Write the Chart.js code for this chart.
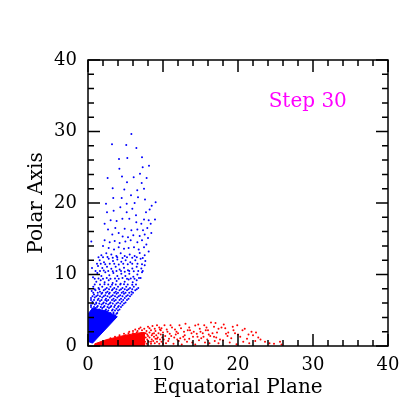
<html>
<head>
  <meta charset="utf-8">
  <title>Step 30</title>
  <script src="https://cdn.jsdelivr.net/npm/chart.js"></script>
  <style>
    body { margin: 0; background: white; }
    #wrap { width: 409px; height: 409px; }
  </style>
</head>
<body>
<div id="wrap"><canvas id="c" width="409" height="409"></canvas></div>
<script>
const axisTicks = [0, 10, 20, 30, 40];
const stepLabel = "Step 30";

// solid cores near the origin (outline of the dense region)
const jetCore = [[0.1,0.6],[0.1,4.6],[0.6,5.3],[2.4,4.9],[3.9,4.1],[0.6,0.4],[0.1,0.6]];
const diskCore = [[0.8,0.05],[0.9,0.3],[2.5,0.9],[4.5,1.4],[6.5,1.8],[7.5,1.9],[7.5,0.05],[0.8,0.05]];

// polar jet particles
const jetDots = [
  [5.78,29.65],[3.2,28.2],[5.1,28.1],[6.45,27.7],[4.13,26.15],[5.24,26.3],[7.2,26.4],[4.18,24.8],[7.29,25.0],[8.13,25.2],
  [2.62,23.5],[4.53,23.7],[6.09,23.6],[6.93,24.1],[7.82,23.5],[5.2,22.9],[7.16,22.8],[3.29,22.05],[4.84,21.9],[6.57,21.8],
  [7.47,22.0],[5.73,21.1],[6.67,20.8],[3.37,20.7],[4.49,20.7],[7.6,20.5],[9.02,20.1],[2.4,19.9],[5.16,19.9],[6.22,20.0],
  [8.49,19.6],[4.31,19.4],[5.91,19.2],[8.22,19.1],
  [3.42,18.9],[5.16,18.7],[2.53,18.7],[7.73,18.7],[6.4,18.3],
  [3.02,17.6],[3.82,17.5],[4.58,17.8],[5.51,17.8],[7.47,17.7],[8.09,17.6],[8.93,17.7],
  [2.22,17.1],[6.44,17.3],[7.11,17.1],[8.36,17.1],
  [2.67,16.3],[3.64,16.5],[4.89,16.4],[5.78,16.2],[6.58,16.3],[7.33,16.2],[7.91,16.5],
  [3.24,15.6],[4.09,15.8],[4.62,15.3],[5.33,15.2],[6.04,15.5],[6.89,15.4],[7.56,15.6],[8.44,15.8],
  [0.44,14.6],[2.22,14.8],[2.89,14.5],[3.56,14.7],[4.22,14.4],[4.98,14.6],[5.69,14.8],[6.58,14.5],[7.2,14.8],[8.0,15.1],
  [2.0,14.0],[2.76,13.7],[3.47,13.5],[4.09,13.8],[4.8,13.6],[5.42,13.7],[6.13,13.8],[6.76,13.5],[7.47,13.8],[7.78,14.2],
  [1.78,12.7],[2.44,12.97],[3.11,12.8],[3.78,12.6],[4.36,12.97],[4.89,12.6],[5.56,12.8],[6.22,12.6],[6.89,13.0],[7.56,12.7],[8.09,13.2],
  [1.4,12.4],[2.0,12.4],[2.6,12.45],[3.3,12.35],[3.9,12.4],[4.6,12.3],[5.2,12.4],[5.9,12.35],[6.5,12.4],[7.3,12.3],
  [1.56,12.0],[2.13,11.7],[2.76,12.2],[3.33,11.9],[3.91,12.1],[4.44,11.8],[5.02,12.0],[5.64,11.7],[6.31,12.0],[7.02,12.2],[7.64,11.9],
  [1.2,11.5],[1.7,11.5],[2.3,11.45],[2.9,11.5],[3.5,11.5],[4.1,11.4],[4.7,11.5],[5.3,11.45],[5.9,11.5],[6.6,11.5],[7.2,11.45],
  [0.53,10.9],[1.33,11.2],[1.91,10.9],[2.53,11.1],[3.11,10.8],[3.69,11.1],[4.22,10.7],[4.8,10.95],[5.33,10.6],[5.91,10.85],[6.49,11.1],[7.11,10.85],[7.56,11.3],
  [1.0,10.5],[1.6,10.5],[2.1,10.55],[2.7,10.5],[3.3,10.45],[3.8,10.5],[4.4,10.5],[4.9,10.4],[5.5,10.5],[6.1,10.45],[6.7,10.5],[7.3,10.5],
  [0.67,9.6],[1.24,10.2],[1.78,9.8],[2.31,10.3],[2.84,9.9],[3.38,10.2],[3.91,9.8],[4.44,10.1],[4.98,9.8],[5.51,10.1],[6.04,9.7],[6.58,10.0],[7.2,10.3],
  [0.9,9.4],[1.4,9.45],[2.0,9.4],[2.5,9.5],[3.0,9.4],[3.6,9.45],[4.1,9.4],[4.6,9.5],[5.2,9.4],[5.7,9.45],[6.2,9.4],[6.8,9.5],
  [1.11,9.0],[1.69,9.2],[2.22,8.9],[2.76,9.2],[3.29,8.8],[3.82,9.1],[4.36,8.7],[4.89,9.0],[5.42,9.3],[5.96,8.9],[6.49,9.2],[7.02,9.5],
  [0.9,8.6],[1.6,8.6],[2.2,8.65],[2.7,8.6],[3.2,8.55],[3.7,8.6],[4.3,8.6],[4.8,8.65],[5.3,8.6],[5.9,8.55],[6.4,8.6],
  [0.7,8.3],[1.4,8.1],[1.9,8.3],[2.5,8.1],[3.0,8.3],[3.5,8.1],[4.0,8.3],[4.6,8.1],[5.1,8.3],[5.6,8.1],[6.1,8.3],[6.7,8.1],
  [0.9,7.95],[1.5,7.95],[2.3,7.95],[2.8,7.95],[3.3,7.95],[3.8,7.95],[4.4,7.95],[4.9,7.95],[5.4,7.95],[5.9,7.95],[6.5,7.95],
  [0.5,7.7],[1.0,7.8],[1.6,7.6],[2.1,7.8],[2.6,7.6],[3.2,7.8],[3.7,7.6],[4.2,7.8],[4.7,7.6],[5.2,7.8],[5.8,7.6],[6.3,7.8],
  [0.7,7.45],[1.3,7.45],[1.9,7.45],[2.4,7.45],[2.9,7.45],[3.5,7.45],[4.0,7.45],[4.5,7.45],[5.0,7.45],[5.5,7.45],[6.0,7.45],
  [0.8,7.2],[1.3,7.1],[1.8,7.3],[2.3,7.1],[2.8,7.3],[3.3,7.1],[3.8,7.3],[4.3,7.1],[4.8,7.3],[5.3,7.1],[5.8,7.2],
  [0.6,6.95],[1.1,6.95],[1.6,6.95],[2.1,6.95],[2.6,6.95],[3.1,6.95],[3.6,6.95],[4.1,6.95],[4.6,6.95],[5.1,6.95],[5.6,6.95],
  [0.4,6.7],[0.9,6.8],[1.4,6.6],[1.9,6.8],[2.4,6.6],[2.9,6.8],[3.4,6.6],[3.9,6.8],[4.4,6.6],[4.9,6.7],[5.4,6.6],
  [0.4,6.45],[0.8,6.45],[1.3,6.45],[1.8,6.45],[2.3,6.45],[2.7,6.45],[3.2,6.45],[3.7,6.45],[4.2,6.45],[4.7,6.45],[5.2,6.45],
  [0.6,6.2],[1.1,6.1],[1.6,6.3],[2.1,6.1],[2.5,6.3],[3.0,6.1],[3.5,6.3],[4.0,6.1],[4.5,6.2],[5.0,6.1],
  [0.6,5.95],[1.1,5.95],[1.5,5.95],[2.0,5.95],[2.4,5.95],[2.9,5.95],[3.3,5.95],[3.8,5.95],[4.3,5.95],[4.8,5.95],
  [0.4,5.7],[0.9,5.8],[1.3,5.6],[1.8,5.8],[2.2,5.6],[2.7,5.8],[3.1,5.6],[3.6,5.7],[4.1,5.6],[4.6,5.7],
  [0.4,5.45],[0.8,5.45],[1.2,5.45],[1.7,5.45],[2.1,5.45],[2.6,5.45],[3.0,5.45],[3.5,5.45],[4.0,5.45],[4.4,5.45],
  [0.6,5.2],[1.0,5.3],[1.5,5.1],[1.9,5.3],[2.4,5.1],[2.8,5.3],[3.3,5.1],[3.8,5.2],[4.2,5.1],
  [0.6,4.95],[1.0,4.95],[1.4,4.95],[1.9,4.95],[2.3,4.95],[2.7,4.95],[3.2,4.95],[3.6,4.95],[4.0,4.95],
  [0.4,4.7],[0.8,4.8],[1.2,4.6],[1.7,4.8],[2.1,4.6],[2.5,4.8],[3.0,4.6],[3.4,4.7],[3.9,4.6],
  [0.4,4.5],[0.8,4.5],[1.2,4.5],[1.6,4.5],[2.1,4.5],[2.5,4.5],[2.9,4.5],[3.4,4.5],[3.8,4.5],
  [0.6,4.3],[1.0,4.4],[1.4,4.2],[1.9,4.4],[2.3,4.2],[2.7,4.4],[3.2,4.2],[3.6,4.3]
];

// equatorial disk particles
const diskDots = [
  [4.2,1.5],[4.8,1.7],[5.5,2.0],[3.6,1.3],[3.0,1.1],[6.3,2.3],[7.0,2.6],
  [6.8,2.4],[7.5,2.4],[8.2,2.5],[8.9,2.4],[9.5,2.6],[8.0,2.7],[8.6,2.8],[9.2,2.9],[9.8,2.5],
  [6.0,2.1],[6.6,2.1],[7.2,2.2],[7.8,2.1],[8.4,2.2],[9.0,2.1],[9.7,2.2],
  [5.4,1.8],[6.0,1.8],[6.5,1.9],[7.1,1.8],[7.7,1.8],[8.2,1.9],[8.8,1.8],[9.4,1.8],[10.0,1.9],
  [5.0,1.5],[5.6,1.5],[6.2,1.6],[6.7,1.5],[7.3,1.5],[7.9,1.6],[8.5,1.5],[9.1,1.5],[9.7,1.6],
  [7.7,1.2],[8.2,1.2],[8.8,1.3],[9.3,1.2],[9.9,1.2],[8.0,1.4],[8.6,1.7],[9.6,2.3],
  [7.9,0.9],[8.5,0.9],[9.0,1.0],[9.6,0.9],[10.1,0.9],[9.2,1.0],
  [7.6,0.6],[8.1,0.6],[8.7,0.7],[9.2,0.6],[9.8,0.6],[8.4,0.6],
  [7.8,0.3],[8.4,0.3],[8.9,0.4],[9.5,0.3],[10.0,0.3],
  [10.2,2.9],[10.5,2.3],[10.9,1.7],[11.2,2.6],[11.5,1.2],[11.8,2.0],[12.1,0.7],[12.4,2.5],[12.7,1.3],[13.0,3.1],
  [10.4,0.4],[10.8,1.0],[11.4,0.3],[11.9,0.9],[12.5,0.2],[13.2,0.6],[13.3,2.2],
  [10.3,1.4],[10.6,2.0],[10.7,0.7],[11.0,2.9],[11.1,1.4],[11.6,2.3],[11.7,1.6],[12.0,1.8],[12.2,2.9],[12.3,1.1],
  [12.8,2.0],[12.9,0.9],[13.5,2.6],[13.5,1.0],[13.9,0.5],[14.1,2.0],[14.6,1.3],[14.7,3.0],[15.0,2.0],[15.4,1.3],
  [15.7,2.2],[16.1,1.6],[16.2,0.4],[16.8,1.3],[17.2,1.9],[17.6,0.9],[18.1,3.0],[18.4,1.7],[18.9,0.5],[19.4,2.2],
  [20.0,1.6],[20.9,2.4],[21.4,1.6],[22.4,1.9],[23.0,0.9],[24.8,0.3],
  [13.8,1.8],[14.5,1.7],[14.8,0.8],[15.3,1.8],[15.9,0.9],[16.6,1.8],[16.9,0.7],
  [16.4,3.3],[17.0,3.2],[14.3,2.85],[15.5,2.9],[13.6,2.2],[14.9,2.4],[16.0,2.2],[17.4,2.4],[18.3,2.5],[19.6,1.8],
  [18.7,1.9],[21.8,2.0],[22.0,1.5],[12.9,1.5],[14.0,1.3],[15.1,1.1],[16.3,1.4],[17.1,1.2],[18.0,0.8],[19.1,1.1],
  [20.3,1.3],[20.7,0.6],[22.3,0.7],[23.6,0.6],[25.6,0.6],[25.8,0.2],[19.8,0.23],[17.4,0.4],[15.6,0.5],[14.3,0.2],
  [19.3,2.7],[19.9,2.9],[20.6,2.2],[21.2,1.0],[18.6,1.4],[17.8,2.6],[16.8,2.7],[15.8,2.6],[21.5,0.4],[22.7,1.2],[24.2,0.4]
];

function toXY(arr) { return arr.map(p => ({ x: p[0], y: p[1] })); }

const fontFam = "'DejaVu Serif', serif";

const framePlugin = {
  id: 'frame',
  afterDraw(chart) {
    const ctx = chart.ctx;
    const a = chart.chartArea;
    const xs = chart.scales.x, ys = chart.scales.y;
    ctx.save();
    ctx.strokeStyle = '#000';
    ctx.lineWidth = 1.5;
    ctx.strokeRect(a.left, a.top, a.right - a.left, a.bottom - a.top);
    ctx.beginPath();
    for (let v = 0; v <= 40; v += 2) {
      const len = v % 10 === 0 ? 12 : 6;
      const px = xs.getPixelForValue(v);
      ctx.moveTo(px, a.bottom); ctx.lineTo(px, a.bottom - len);
      ctx.moveTo(px, a.top); ctx.lineTo(px, a.top + len);
      const py = ys.getPixelForValue(v);
      ctx.moveTo(a.left, py); ctx.lineTo(a.left + len, py);
      ctx.moveTo(a.right, py); ctx.lineTo(a.right - len, py);
    }
    ctx.stroke();
    // step label
    ctx.fillStyle = '#ff00ff';
    ctx.font = "20px " + fontFam;
    ctx.textAlign = 'center';
    ctx.textBaseline = 'middle';
    ctx.fillText(stepLabel, xs.getPixelForValue(29.3), ys.getPixelForValue(34.1));
    ctx.restore();
  }
};

new Chart(document.getElementById('c'), {
  type: 'scatter',
  data: {
    datasets: [
      { data: toXY(jetCore), showLine: true, fill: 'shape', backgroundColor: '#0000ff', borderColor: '#0000ff', borderWidth: 1, pointRadius: 0 },
      { data: toXY(diskCore), showLine: true, fill: 'shape', backgroundColor: '#ff0000', borderColor: '#ff0000', borderWidth: 1, pointRadius: 0 },
      { data: toXY(jetDots), backgroundColor: '#0000ff', pointRadius: 1, borderWidth: 0 },
      { data: toXY(diskDots), backgroundColor: '#ff0000', pointRadius: 1, borderWidth: 0 }
    ]
  },
  options: {
    responsive: false,
    animation: false,
    events: [],
    layout: { padding: { top: 60, right: 21, left: 0, bottom: 0 } },
    plugins: { legend: { display: false }, tooltip: { enabled: false } },
    scales: {
      x: {
        type: 'linear', min: 0, max: 40,
        afterBuildTicks: s => { s.ticks = axisTicks.map(v => ({ value: v })); },
        afterFit: s => { s.height = 63; },
        grid: { display: false, drawTicks: false },
        border: { display: false },
        ticks: { color: '#000', padding: 9, maxRotation: 0, font: { family: fontFam, size: 18 } },
        title: { display: true, text: 'Equatorial Plane', color: '#000', padding: { top: 0, bottom: 9 }, font: { family: fontFam, size: 20 } }
      },
      y: {
        type: 'linear', min: 0, max: 40,
        afterBuildTicks: s => { s.ticks = axisTicks.map(v => ({ value: v })); },
        afterFit: s => { s.width = 88; },
        grid: { display: false, drawTicks: false },
        border: { display: false },
        ticks: { color: '#000', padding: 11, font: { family: fontFam, size: 18 } },
        title: { display: true, text: 'Polar Axis', color: '#000', padding: { top: 25, bottom: 0 }, font: { family: fontFam, size: 20 } }
      }
    }
  },
  plugins: [framePlugin]
});
</script>
</body>
</html>
